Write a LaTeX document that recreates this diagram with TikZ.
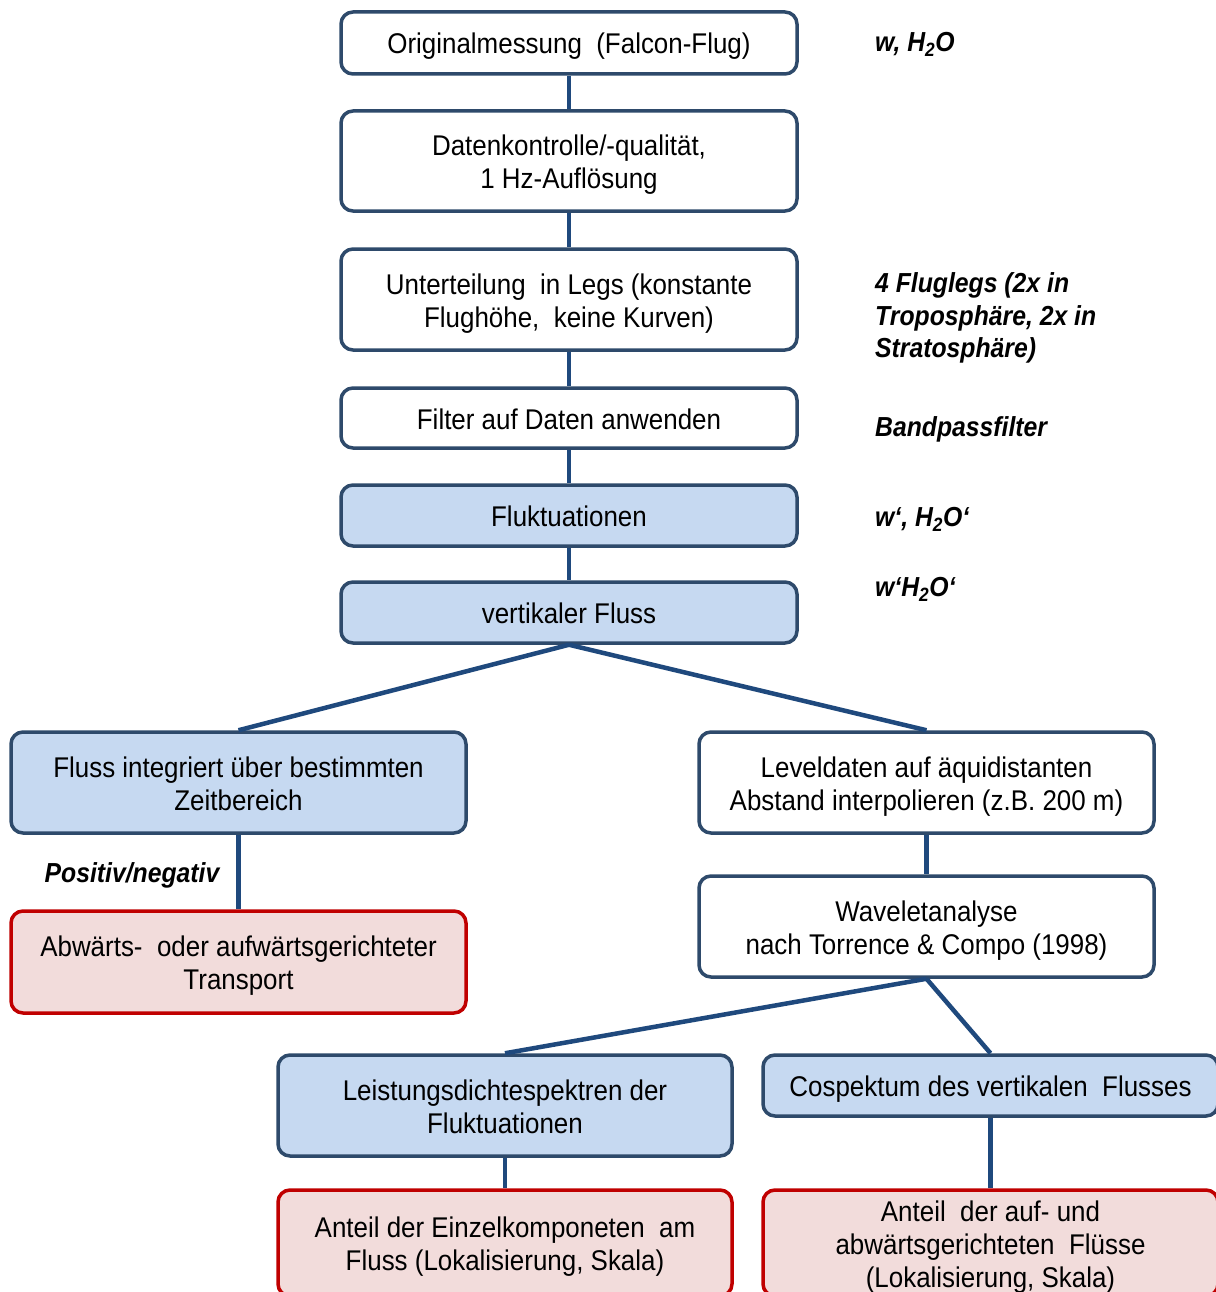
\documentclass[tikz,border=0pt]{standalone}
\usepackage{fontspec}
\setmainfont[FakeStretch=0.91]{Liberation Sans}
\newfontfamily\sidefont[FakeStretch=0.9]{Liberation Sans}
\definecolor{bordercol}{HTML}{2E4A6B}
\definecolor{conncol}{HTML}{1F497D}
\definecolor{blueF}{HTML}{C6D9F1}
\definecolor{redB}{HTML}{C00000}
\definecolor{redF}{HTML}{F2DCDB}
\tikzset{
  box/.style={draw=bordercol, line width=3.5pt, rounded corners=12pt, minimum width=456pt,
    text width=440pt, align=flush center, font=\fontsize{28.5}{33}\selectfont, inner sep=0pt, fill=white,
    execute at begin node={\rule{0pt}{30pt}},
    execute at end node={\rule[-8pt]{0pt}{8pt}}},
  bluebox/.style={box, fill=blueF},
  redbox/.style={box, draw=redB, fill=redF},
  conn/.style={draw=conncol, line width=4.5pt},
  side/.style={anchor=west, align=left, font=\sidefont\fontsize{27.5}{32.5}\selectfont\bfseries\itshape, inner sep=0pt}
}
\begin{document}
\begin{tikzpicture}[x=1pt,y=-1pt]
\useasboundingbox (0,0) rectangle (1215,1292);
\fill[white] (0,0) rectangle (1215,1292);
\node[box, minimum height=62pt] (n1) at (569,43) {Originalmessung~ (Falcon-Flug)};
\node[box, minimum height=100pt] (n2) at (569,161) {Datenkontrolle/-qualität,\\1 Hz-Auflösung};
\node[box, minimum height=101pt] (n3) at (569,299.5) {Unterteilung~ in Legs (konstante\\Flughöhe,~ keine Kurven)};
\node[box, minimum height=60pt] (n4) at (569,418) {Filter auf Daten anwenden};
\node[bluebox, minimum height=61pt] (n5) at (569,515.5) {Fluktuationen};
\node[bluebox, minimum height=61pt] (n6) at (569,612.5) {vertikaler Fluss};
\node[bluebox, minimum width=455pt, minimum height=101pt] (n7) at (238.5,782.5) {Fluss integriert über bestimmten\\Zeitbereich};
\node[box, minimum width=455pt, minimum height=101pt] (n8) at (926.5,782.5) {Leveldaten auf äquidistanten\\Abstand interpolieren (z.B. 200 m)};
\node[redbox, minimum width=455pt, minimum height=102pt] (n9) at (238.5,962) {Abwärts-~ oder aufwärtsgerichteter\\Transport};
\node[box, minimum width=455pt, minimum height=101pt] (n10) at (926.5,926.5) {Waveletanalyse\\nach Torrence \& Compo (1998)};
\node[bluebox, minimum width=454pt, minimum height=101pt] (n11) at (505,1105.5) {Leistungsdichtespektren der\\Fluktuationen};
\node[bluebox, minimum width=455pt, minimum height=61pt] (n12) at (990.5,1085.5) {Cospektum des vertikalen~ Flusses};
\node[redbox, minimum width=454pt, minimum height=106pt] (n13) at (505,1243) {Anteil der Einzelkomponeten~ am\\Fluss (Lokalisierung, Skala)};
\node[redbox, minimum width=455pt, minimum height=106pt] (n14) at (990.5,1243) {Anteil~ der auf- und\\abwärtsgerichteten~ Flüsse\\(Lokalisierung, Skala)};
% connectors
\draw[conn] (n1.south) -- (n2.north);
\draw[conn] (n2.south) -- (n3.north);
\draw[conn] (n3.south) -- (n4.north);
\draw[conn] (n4.south) -- (n5.north);
\draw[conn] (n5.south) -- (n6.north);
\draw[conn] (n6.south) -- (n7.north);
\draw[conn] (n6.south) -- (n8.north);
\draw[conn] (n7.south) -- (n9.north);
\draw[conn] (n8.south) -- (n10.north);
\draw[conn] (n10.south) -- (n11.north);
\draw[conn] (n10.south) -- (n12.north);
\draw[conn] (n11.south) -- (n13.north);
\draw[conn] (n12.south) -- (n14.north);
% side labels
\node[side] (s1) at (875,44) {w, H\textsubscript{2}O};
\node[side] (s2) at (875,318) {4 Fluglegs (2x in\\Troposphäre, 2x in\\Stratosphäre)};
\node[side] (s3) at (875,429) {Bandpassfilter};
\node[side] (s4) at (875,519) {w‘, H\textsubscript{2}O‘};
\node[side] (s5) at (875,589) {w‘H\textsubscript{2}O‘};
\node[side, anchor=center] (s6) at (132,875) {Positiv/negativ};
\end{tikzpicture}
\end{document}
